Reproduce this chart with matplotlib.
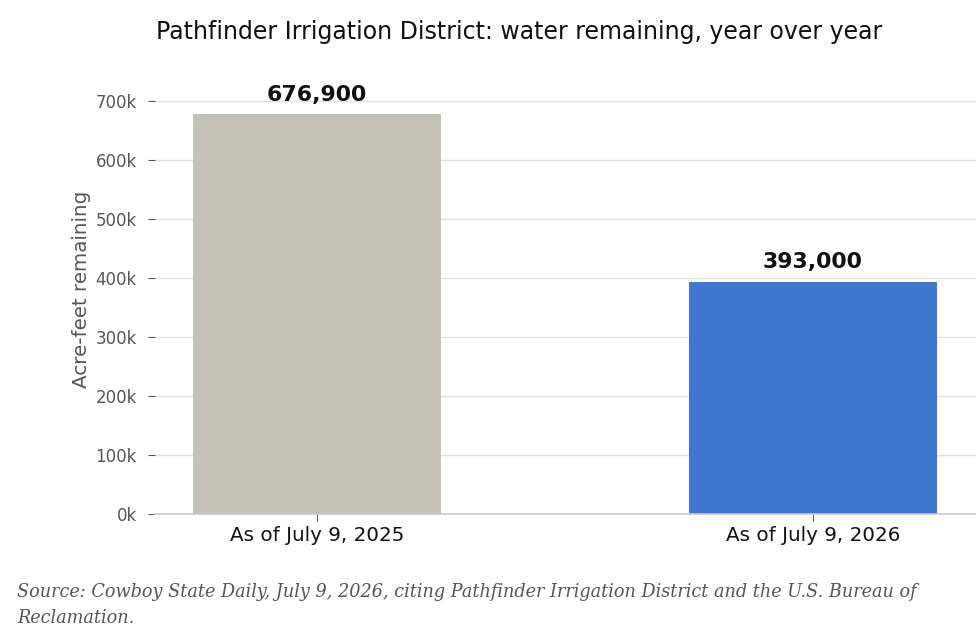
import matplotlib
matplotlib.use("Agg")
import matplotlib.pyplot as plt
from matplotlib.ticker import FuncFormatter

plt.rcParams["font.family"] = ["DejaVu Sans"]

categories = ["As of July 9, 2025", "As of July 9, 2026"]
values = [676900, 393000]
bar_colors = ["#c2c2b6", "#4078cf"]
title = "Pathfinder Irrigation District: water remaining, year over year"
ylabel = "Acre-feet remaining"
source = ("Source: Cowboy State Daily, July 9, 2026, citing Pathfinder Irrigation District and the U.S. Bureau of\n"
          "Reclamation.")

fig = plt.figure(figsize=(9.76, 6.44), dpi=100)
ax = fig.add_axes([155/976, 1-514/644, (976-155)/976, (514-64)/644])

x = list(range(len(categories)))
bars = ax.bar(x, values, width=0.5, color=bar_colors, zorder=2)
ax.set_xlim(-0.327, 1.329)
ax.set_ylim(0, 762000)
ax.set_yticks(range(0, 700001, 100000))
ax.yaxis.set_major_formatter(FuncFormatter(lambda v, p: f"{int(v/1000)}k"))
ax.set_xticks(x)
ax.set_xticklabels(categories, fontsize=14.3, color="#111111")
ax.tick_params(axis="y", labelsize=12, labelcolor="#555555", color="#555555", length=5, pad=8)
ax.tick_params(axis="x", color="#555555", length=5, pad=3.5)
ax.grid(axis="y", color="#e2e2dc", linewidth=1, zorder=0)
for s in ["top", "right", "left"]:
    ax.spines[s].set_visible(False)
ax.spines["bottom"].set_color("#c8c8c8")
ax.spines["bottom"].set_linewidth(1.2)
ax.set_ylabel(ylabel, fontsize=14.3, color="#555555", labelpad=3)

for xi, v in zip(x, values):
    ax.text(xi, v + 16500, f"{v:,}", ha="center", va="bottom", fontsize=15.8,
            fontweight="bold", color="#111111", clip_on=False)

fig.text(519/976, 1-32/644, title, ha="center", va="center", fontsize=17, color="#111111")
fig.text(17/976, 1-605/644, source, ha="left", va="center", fontsize=12.7,
         family="DejaVu Serif", style="italic", color="#555555", linespacing=1.6)

fig.savefig("out.png", dpi=100)
